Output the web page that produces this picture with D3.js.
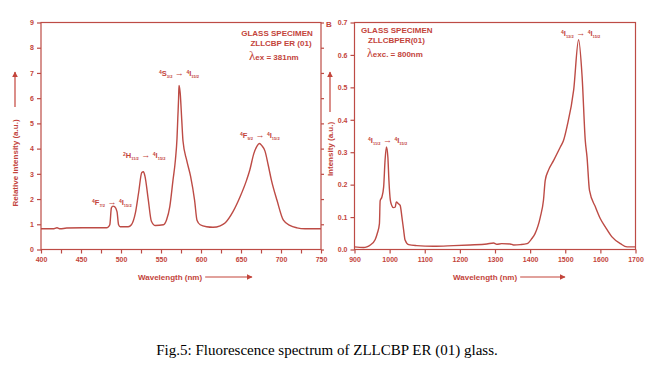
<!DOCTYPE html>
<html>
<head>
<meta charset="utf-8">
<script src="https://cdnjs.cloudflare.com/ajax/libs/d3/7.8.5/d3.min.js"></script>
<style>
  body { margin: 0; background: #fff; }
</style>
</head>
<body>
<div id="chart"></div>
<script>
// Panel A: visible emission (excitation 381 nm)
var visWavelength = [400, 415, 420, 424, 432, 452, 474, 482, 484, 486, 488, 490, 492, 495, 497, 499,
  509, 513, 518, 522, 526, 528, 530, 534, 538, 543, 553, 557, 561, 565, 568, 570, 571, 572, 572.5,
  574, 576, 577.5, 582, 587, 592, 595, 599, 607, 615, 624, 630, 640, 649, 657, 661, 666, 670, 673,
  676, 680, 684, 688, 695, 703, 711, 720, 730, 750];
var visIntensity = [0.82, 0.82, 0.86, 0.82, 0.85, 0.86, 0.86, 0.86, 0.89, 0.98, 1.65, 1.72, 1.7, 1.5, 0.98, 0.9,
  0.9, 0.98, 1.45, 2.25, 3.05, 3.08, 2.9, 2.0, 1.12, 0.95, 0.98, 1.18, 1.7, 2.75, 3.55, 4.4, 5.2, 6.0, 6.5,
  6.2, 5.1, 4.3, 3.55, 2.9, 1.95, 1.16, 0.98, 0.9, 0.88, 0.94, 1.05, 1.5, 2.1, 2.75, 3.15, 3.8, 4.1, 4.2,
  4.12, 3.9, 3.35, 2.75, 1.95, 1.16, 0.96, 0.86, 0.82, 0.82];

// Panel B: NIR emission (excitation 800 nm)
var nirWavelength = [900, 926, 935, 945, 959, 965, 971, 973, 978, 983, 987, 991, 995, 998, 1002, 1006,
  1011, 1016, 1019, 1025, 1030, 1035, 1040, 1044, 1054, 1077, 1125, 1182, 1229, 1277, 1296, 1305, 1319,
  1343, 1353, 1372, 1391, 1405, 1414, 1429, 1438, 1443, 1452, 1467, 1486, 1495, 1505, 1524, 1538, 1548,
  1557, 1562, 1569, 1586, 1600, 1614, 1633, 1657, 1676, 1700];
var nirIntensity = [0.008, 0.006, 0.008, 0.014, 0.031, 0.05, 0.08, 0.15, 0.162, 0.193, 0.275, 0.316, 0.285, 0.213, 0.152, 0.136,
  0.129, 0.131, 0.147, 0.141, 0.136, 0.1, 0.059, 0.029, 0.015, 0.012, 0.01, 0.012, 0.014, 0.017, 0.02, 0.016, 0.018,
  0.017, 0.014, 0.015, 0.018, 0.034, 0.049, 0.1, 0.152, 0.213, 0.244, 0.275, 0.316, 0.336, 0.379, 0.492, 0.647, 0.533,
  0.336, 0.285, 0.182, 0.131, 0.095, 0.07, 0.039, 0.018, 0.008, 0.008];

// tick values
var visXTicks = [400, 450, 500, 550, 600, 650, 700, 750];
var visXMinor = [425, 475, 525, 575, 625, 675, 725];
var visYTicks = [0, 1, 2, 3, 4, 5, 6, 7, 8, 9];
var nirXTicks = [900, 1000, 1100, 1200, 1300, 1400, 1500, 1600, 1700];
var nirYTicks = [0.0, 0.1, 0.2, 0.3, 0.4, 0.5, 0.6, 0.7];

var red = "#c3443b";
var lineRed = "#bd4b45";
var sans = "'Liberation Sans', Arial, sans-serif";

var svg = d3.select("#chart")
  .append("svg")
  .attr("width", 659)
  .attr("height", 387)
  .attr("font-family", sans);

svg.append("defs").append("marker")
  .attr("id", "arrow")
  .attr("viewBox", "0 0 10 10")
  .attr("refX", 9)
  .attr("refY", 5)
  .attr("markerWidth", 6)
  .attr("markerHeight", 6)
  .attr("markerUnits", "userSpaceOnUse")
  .attr("orient", "auto")
  .append("path")
  .attr("d", "M0,0 L10,5 L0,10 z")
  .attr("fill", red);

// scales
var xVis = d3.scaleLinear().domain([400, 750]).range([41, 321]);
var yVis = d3.scaleLinear().domain([0, 9]).range([249.5, 22.5]);
var xNir = d3.scaleLinear().domain([900, 1700]).range([354.5, 635.5]);
var yNir = d3.scaleLinear().domain([0, 0.7]).range([249.5, 22.5]);

function styleAxis(g) {
  g.select(".domain").remove();
  g.selectAll("line").attr("stroke", lineRed).attr("stroke-width", 1.2);
  g.selectAll("text")
    .attr("fill", red)
    .attr("font-family", sans)
    .attr("font-size", "7px")
    .attr("font-weight", "bold");
}

function drawPanel(x, y, xTicks, xMinor, yTicks, yFormat, mirrorTicks) {
  var x0 = x.range()[0], x1 = x.range()[1];
  var y0 = y.range()[0], y1 = y.range()[1];

  // bottom axis
  svg.append("g")
    .attr("transform", `translate(0, ${y0})`)
    .call(d3.axisBottom(x).tickValues(xTicks).tickSize(4).tickPadding(4).tickFormat(d3.format("d")))
    .call(styleAxis);

  if (xMinor.length) {
    svg.append("g")
      .attr("transform", `translate(0, ${y0})`)
      .call(d3.axisBottom(x).tickValues(xMinor).tickSize(4).tickFormat(""))
      .call(styleAxis);
  }

  // left axis
  svg.append("g")
    .attr("transform", `translate(${x0}, 0)`)
    .call(d3.axisLeft(y).tickValues(yTicks).tickSize(4).tickPadding(3).tickFormat(yFormat))
    .call(styleAxis);

  if (mirrorTicks) {
    svg.append("g")
      .attr("transform", `translate(${x1}, 0)`)
      .call(d3.axisRight(y).tickValues(yTicks).tickSize(3).tickFormat(""))
      .call(styleAxis);
  }

  // frame
  svg.append("rect")
    .attr("x", x0)
    .attr("y", y1)
    .attr("width", x1 - x0)
    .attr("height", y0 - y1)
    .attr("fill", "none")
    .attr("stroke", lineRed)
    .attr("stroke-width", 1.2);
}

drawPanel(xVis, yVis, visXTicks, visXMinor, visYTicks, d3.format("d"), true);
drawPanel(xNir, yNir, nirXTicks, [], nirYTicks, d3.format(".1f"), false);

// spectra
var visLine = d3.line()
  .x(d => xVis(d[0]))
  .y(d => yVis(d[1]))
  .curve(d3.curveMonotoneX);

var nirLine = d3.line()
  .x(d => xNir(d[0]))
  .y(d => yNir(d[1]))
  .curve(d3.curveMonotoneX);

svg.append("path")
  .datum(d3.zip(visWavelength, visIntensity))
  .attr("d", visLine)
  .attr("fill", "none")
  .attr("stroke", lineRed)
  .attr("stroke-width", 1.4);

svg.append("path")
  .datum(d3.zip(nirWavelength, nirIntensity))
  .attr("d", nirLine)
  .attr("fill", "none")
  .attr("stroke", lineRed)
  .attr("stroke-width", 1.4);

// axis titles with arrows
function xTitle(x, y, arrowEnd) {
  var t = svg.append("text")
    .attr("x", x)
    .attr("y", y)
    .attr("fill", red)
    .attr("font-size", "8px")
    .attr("font-weight", "bold")
    .text("Wavelength (nm)");
  var w = t.node().getComputedTextLength();
  svg.append("line")
    .attr("x1", x + w + 3)
    .attr("x2", arrowEnd)
    .attr("y1", y - 3)
    .attr("y2", y - 3)
    .attr("stroke", red)
    .attr("stroke-width", 1.2)
    .attr("marker-end", "url(#arrow)");
}

function yTitle(x, yc, label, arrowFrom, arrowTo) {
  svg.append("text")
    .attr("transform", `translate(${x}, ${yc}) rotate(-90)`)
    .attr("text-anchor", "middle")
    .attr("fill", red)
    .attr("font-size", "8px")
    .attr("font-weight", "bold")
    .text(label);
  svg.append("line")
    .attr("x1", x - 3)
    .attr("x2", x - 3)
    .attr("y1", arrowFrom)
    .attr("y2", arrowTo)
    .attr("stroke", red)
    .attr("stroke-width", 1.2)
    .attr("marker-end", "url(#arrow)");
}

xTitle(138, 280, 252);
xTitle(453, 280, 565);
yTitle(18, 163, "Relative Intensity (a.u.)", 107, 72);
yTitle(333, 149, "Intensity (a.u.)", 112, 72);

// transition labels, e.g. 4S3/2 -> 4I15/2, with sup/sub parts
function transitionLabel(x, y, from, to) {
  var t = svg.append("text")
    .attr("x", x)
    .attr("y", y)
    .attr("fill", red)
    .attr("font-weight", "bold")
    .attr("font-size", "7.5px");
  [from, to].forEach(function(lv, i) {
    t.append("tspan").attr("font-size", "5px").attr("baseline-shift", 2.5).text(lv[0]);
    t.append("tspan").text(lv[1]);
    t.append("tspan").attr("font-size", "4px").attr("baseline-shift", -1.5).text(lv[2]);
    if (i === 0) {
      t.append("tspan").attr("font-size", "9px").text(" \u2192 ");
    }
  });
}

transitionLabel(159, 76, ["4", "S", "3/2"], ["4", "I", "15/2"]);
transitionLabel(240, 138, ["4", "F", "9/2"], ["4", "I", "15/2"]);
transitionLabel(123, 158, ["2", "H", "11/2"], ["4", "I", "15/2"]);
transitionLabel(92, 205, ["4", "F", "7/2"], ["4", "I", "15/2"]);
transitionLabel(561, 36, ["4", "I", "13/2"], ["4", "I", "15/2"]);
transitionLabel(368, 143, ["4", "I", "11/2"], ["4", "I", "15/2"]);

// specimen notes
function note(x, y, label, anchor) {
  svg.append("text")
    .attr("x", x)
    .attr("y", y)
    .attr("text-anchor", anchor)
    .attr("fill", red)
    .attr("font-size", "8px")
    .attr("font-weight", "bold")
    .text(label);
}

function lambda(x, y, size, rest) {
  var t = svg.append("text")
    .attr("x", x)
    .attr("y", y)
    .attr("fill", red);
  t.append("tspan")
    .attr("font-family", "'Liberation Serif', serif")
    .attr("font-size", size + "px")
    .text("\u03bb");
  t.append("tspan")
    .attr("font-size", "8px")
    .attr("font-weight", "bold")
    .text(rest);
}

note(277, 36, "GLASS SPECIMEN", "middle");
note(281, 46, "ZLLCBP ER (01)", "middle");
lambda(249, 60, 13, "ex = 381nm");

note(361, 33, "GLASS SPECIMEN", "start");
note(368, 43, "ZLLCBPER(01)", "start");
lambda(367, 57, 12, "exc. = 800nm");

note(326, 27, "B", "start");

// caption
svg.append("text")
  .attr("x", 327)
  .attr("y", 355)
  .attr("text-anchor", "middle")
  .attr("font-family", "'Liberation Serif', 'Times New Roman', serif")
  .attr("font-size", "15px")
  .attr("fill", "#000")
  .text("Fig.5: Fluorescence spectrum of ZLLCBP ER (01) glass.");
</script>
</body>
</html>
